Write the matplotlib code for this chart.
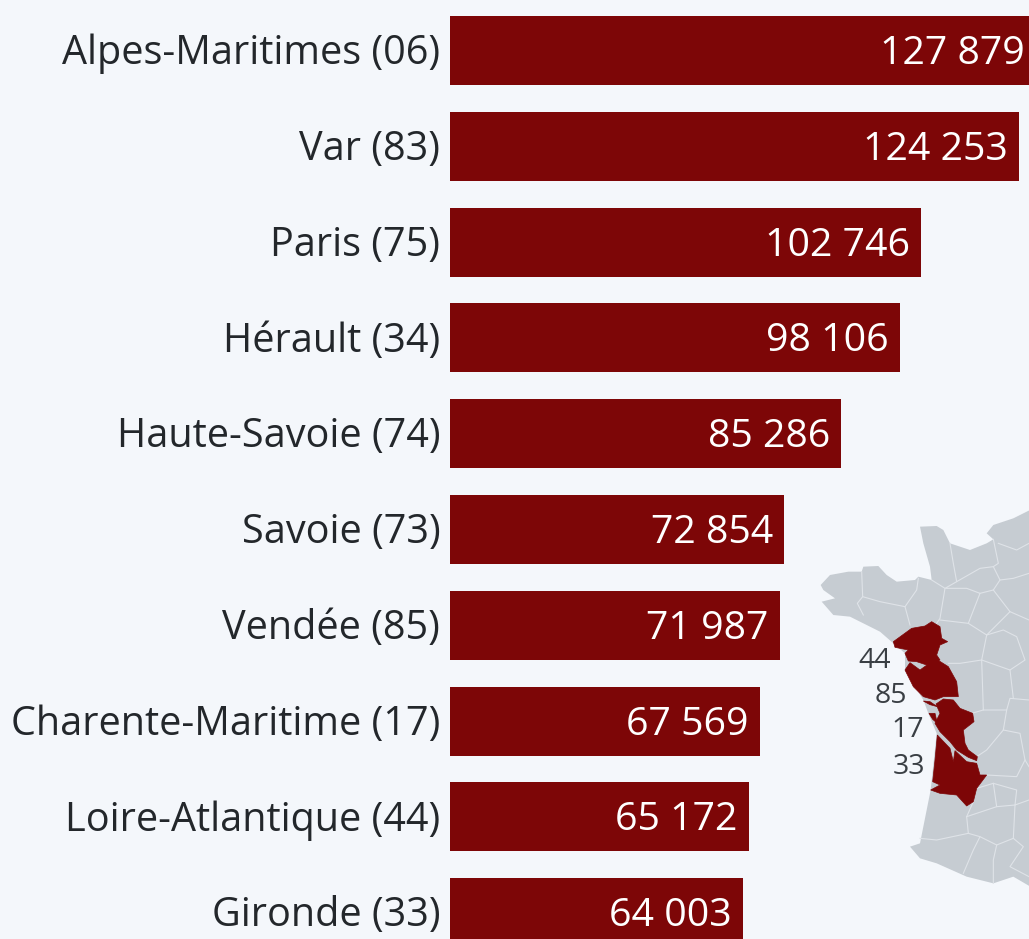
import matplotlib
matplotlib.use("Agg")
import matplotlib.pyplot as plt
from matplotlib.patches import Polygon
from matplotlib.transforms import ScaledTranslation

plt.rcParams['font.family'] = ['Open Sans', 'DejaVu Sans']

departments = ["Alpes-Maritimes (06)", "Var (83)", "Paris (75)", "Hérault (34)", "Haute-Savoie (74)",
               "Savoie (73)", "Vendée (85)", "Charente-Maritime (17)", "Loire-Atlantique (44)", "Gironde (33)"]
values = [127879, 124253, 102746, 98106, 85286, 72854, 71987, 67569, 65172, 64003]
value_labels = ["127 879", "124 253", "102 746", "98 106", "85 286", "72 854", "71 987", "67 569", "65 172", "64 003"]

BG = "#f4f7fb"
RED = "#7d0607"
GREY = "#c6ccd2"
TXT = "#23272b"

W, H = 1029, 939
fig = plt.figure(figsize=(W / 100, H / 100), dpi=100, facecolor=BG)

# Bar chart
ax = fig.add_axes([450 / W, 0, (W - 450) / W, 1], facecolor="none")
px_per_unit = 0.004583
ax.set_xlim(0, (W - 450) / px_per_unit)
ax.set_ylim((H - 50.5) / 95.8, -50.5 / 95.8)
pos = list(range(len(values)))
ax.barh(pos, values, height=0.72, color=RED, zorder=3)
ax.set_yticks(pos, departments, fontsize=28.5, color=TXT)
ax.set_xticks([])
ax.tick_params(axis='y', length=0, pad=7)
lift = ScaledTranslation(0, 1.5 / 100, fig.dpi_scale_trans)
for t in ax.get_yticklabels():
    t.set_transform(t.get_transform() + lift)
for s in ax.spines.values():
    s.set_visible(False)
for p, v, lab in zip(pos, values, value_labels):
    ax.annotate(lab, (v, p), xytext=(-8, 0.7), textcoords="offset points", ha="right", va="center_baseline",
                color="white", fontsize=28.3, zorder=4, annotation_clip=False)

# Inset map: outlines in the 3x crop coordinates of the map region
def to_px(pts):
    return [(780 + x / 3, 500 + y / 3) for x, y in pts]

france = [(122,255),(150,225),(205,215),(245,215),(250,200),(295,198),(320,225),(350,245),(405,240),(415,230),
          (455,240),(450,200),(430,130),(420,80),(470,78),(490,90),(510,130),(570,150),(620,130),(640,118),
          (620,100),(640,75),(700,55),(760,25),(760,1165),(700,1130),(640,1150),(560,1130),(470,1090),(420,1075),
          (390,1040),(420,1030),(440,930),(452,870),(470,700),(445,640),(430,600),(375,510),(375,460),(340,430),
          (300,395),(260,375),(210,350),(160,345),(125,305),(165,295),(130,270)]
dep44 = [(340,425),(395,385),(435,378),(455,365),(480,380),(485,415),(503,425),(480,435),(470,465),(480,480),
         (440,495),(410,485),(385,483),(375,460),(385,450),(345,442)]
dep85 = [(375,510),(390,488),(420,510),(445,492),(470,478),(505,500),(530,545),(535,590),(490,590),(465,600),
         (430,590),(400,560)]
dep17 = [(468,612),(490,597),(520,600),(540,625),(578,640),(582,665),(550,690),(555,730),(565,750),(592,770),
         (590,782),(565,772),(530,750),(510,725),(480,695),(465,670),(480,640)]
dep17_re = [(430,603),(450,605),(472,620),(450,614)]
dep17_ol = [(447,640),(465,640),(472,670),(458,658)]
dep33 = [(472,705),(510,745),(520,785),(525,752),(560,785),(590,790),(600,825),(620,825),(590,865),(580,905),
         (560,918),(530,885),(480,880),(452,870),(480,855),(458,845),(465,780)]
borders = [
    [(245,215),(248,290),(232,310),(250,345)],
    [(248,290),(300,305),(375,320),(390,375)],
    [(375,320),(410,270),(415,235)],
    [(455,240),(495,265),(480,355),(470,370)],
    [(530,245),(495,265),(560,265),(600,280),(565,370)],
    [(510,130),(520,190),(530,245),(600,205),(640,200),(660,240),(640,270),(600,280)],
    [(640,118),(655,190),(640,200)],
    [(640,270),(690,335),(620,405),(565,370),(480,360)],
    [(620,405),(605,480),(540,490),(505,490)],
    [(605,480),(610,630),(575,640)],
    [(610,630),(680,630),(690,595),(747,600)],
    [(620,405),(670,390),(710,410),(735,480),(690,510),(605,480)],
    [(690,510),(700,595)],
    [(690,335),(747,360)],
    [(660,240),(700,235),(747,220)],
    [(655,130),(710,150),(747,130)],
    [(680,630),(670,690),(620,750),(590,770)],
    [(670,690),(720,700),(735,780),(747,800)],
    [(620,825),(710,830),(735,780)],
    [(590,865),(640,850),(710,870),(705,915),(747,900)],
    [(640,850),(650,920),(705,915)],
    [(560,950),(650,920)],
    [(560,950),(565,1000),(600,1010),(580,1050),(550,1120)],
    [(420,1015),(470,1020),(565,1000)],
    [(600,1010),(650,1035),(700,1015),(705,915)],
    [(650,1035),(640,1080),(640,1150)],
    [(700,1015),(730,1040),(690,1100),(747,1130)],
    [(580,905),(560,950)],
]
map_labels = ["44", "85", "17", "33"]
map_label_pos = [(891, 661), (907, 696), (924, 730), (925, 767)]

mp = fig.add_axes([0, 0, 1, 1], facecolor="none", zorder=1)
mp.set_xlim(0, W)
mp.set_ylim(H, 0)
mp.axis("off")
mp.add_patch(Polygon(to_px(france), closed=True, fc=GREY, ec="none", zorder=1))
for b in borders:
    xs, ys = zip(*to_px(b))
    mp.plot(xs, ys, color="#dfe3e8", lw=0.8, zorder=2, solid_joinstyle="round")
for d in (dep44, dep85, dep17, dep17_re, dep17_ol, dep33):
    mp.add_patch(Polygon(to_px(d), closed=True, fc=RED, ec=RED, lw=0.5, zorder=3))
for lab, (x, y) in zip(map_labels, map_label_pos):
    mp.text(x, y, lab, ha="right", va="center", fontsize=20.5, color="#3a3f44", zorder=4)

ax.set_zorder(2)
fig.savefig("out.png", dpi=100, facecolor=BG)
